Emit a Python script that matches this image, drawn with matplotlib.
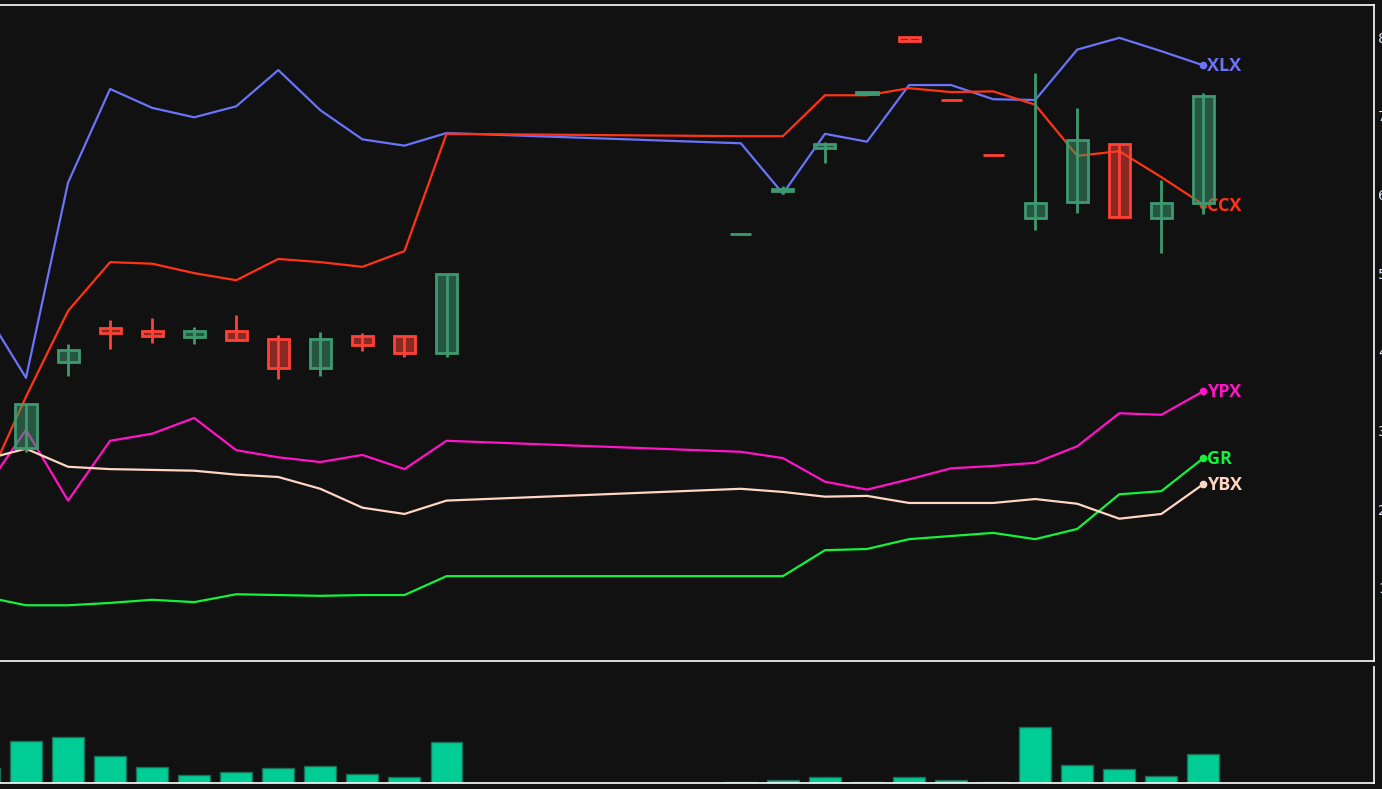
"""Candles + relative-strength lines with volume panel (dark theme)."""
import numpy as np
import matplotlib
matplotlib.use("Agg")
import matplotlib.pyplot as plt
from matplotlib.patches import Rectangle

# trading days (day index from first session, days 11-16 missing)
days = [-1, 0, 1, 2, 3, 4, 5, 6, 7, 8, 9, 10,
        17, 18, 19, 20, 21, 22, 23, 24, 25, 26, 27, 28]

xlx = [45.4, 36.7, 61.5, 73.4, 71.0, 69.8, 71.2, 75.8, 70.7, 67.0, 66.2, 67.8,
       66.5, 60.1, 67.7, 66.7, 73.9, 73.9, 72.1, 72.0, 78.4, 79.9, 78.2, 76.4]
ccx = [22.5, 34.3, 45.2, 51.4, 51.2, 50.0, 49.1, 51.8, 51.4, 50.8, 52.8, 67.7,
       67.4, 67.4, 72.6, 72.6, 73.5, 73.0, 73.1, 71.4, 64.9, 65.5, 62.2, 58.7]
ypx = [22.3, 30.1, 21.1, 28.7, 29.6, 31.6, 27.5, 26.6, 26.0, 26.9, 25.1, 28.7,
       27.3, 26.5, 23.5, 22.5, 23.8, 25.2, 25.5, 25.9, 28.0, 32.2, 32.0, 35.0]
gr = [8.9, 7.8, 7.8, 8.1, 8.5, 8.2, 9.2, 9.1, 9.0, 9.1, 9.1, 11.5,
      11.5, 11.5, 14.8, 14.95, 16.2, 16.6, 17.0, 16.2, 17.5, 21.9, 22.3, 26.5]
ybx = [26.3, 27.7, 25.4, 25.1, 25.0, 24.9, 24.4, 24.1, 22.6, 20.2, 19.4, 21.1,
       22.6, 22.2, 21.6, 21.7, 20.8, 20.8, 20.8, 21.3, 20.7, 18.8, 19.4, 23.2]

# OHLC for days 0.. (no candle for day -1)
c_days = days[1:]
opens  = [27.8, 38.7, 43.0, 42.7, 41.9, 42.7, 41.6, 38.0, 42.0, 42.0, 39.9,
          55.0, 60.4, 65.9, 72.8, 80.0, 72.05, 65.05, 57.0, 59.0, 66.4, 57.0, 58.9]
highs  = [33.4, 41.0, 44.0, 44.3, 43.2, 44.7, 42.1, 42.5, 42.4, 42.0, 49.9,
          55.0, 61.1, 66.7, 73.0, 80.0, 72.05, 65.05, 75.4, 71.0, 66.4, 61.8, 72.9]
lows   = [27.3, 36.9, 40.4, 41.1, 41.0, 41.4, 36.6, 36.9, 40.1, 39.3, 39.3,
          55.0, 60.1, 64.0, 72.8, 79.5, 72.0, 65.0, 55.5, 57.6, 57.1, 52.6, 57.5]
closes = [33.4, 40.2, 42.4, 42.0, 42.7, 41.5, 38.0, 41.6, 40.9, 39.9, 49.9,
          55.0, 60.7, 66.4, 73.0, 79.5, 72.0, 65.0, 58.9, 66.9, 57.1, 58.9, 72.5]

volume = [15, 42, 46, 27, 16, 8, 11, 15, 17, 9, 6, 41,
          1.2, 3, 6, 1.2, 6, 3, 1.2, 56, 18, 14, 7, 29]  # thousands

tick_days = [7, 17, 27]
tick_labels = ["Jul 1", "Jul 11", "Jul 21"]
y_ticks = [10, 20, 30, 40, 50, 60, 70, 80]

BG = "#111111"
W, H = 1382, 789
fig = plt.figure(figsize=(W / 100, H / 100), dpi=100, facecolor=BG)

# pixel layout: day d sits at x = 26 + 42.05*d; axes left edge is off-canvas
px_per_day = 42.05
left_px, right_px = -50, 1374
xlim = ((left_px - 26) / px_per_day, (right_px - 26) / px_per_day)
ax = fig.add_axes([left_px / W, 1 - 661 / H, (right_px - left_px) / W, 656 / H])
axv = fig.add_axes([left_px / W, 1 - 783 / H, (right_px - left_px) / W, 116 / H])

for a in (ax, axv):
    a.set_facecolor(BG)
    a.set_xlim(*xlim)
    for s in a.spines.values():
        s.set_color("white"); s.set_linewidth(1.2)
    a.spines["left"].set_visible(False)
axv.spines["top"].set_visible(False)

ax.set_ylim(0.72, 84.07)
ax.yaxis.tick_right()
ax.set_yticks(y_ticks)
ax.tick_params(axis="y", length=0, pad=3, labelsize=10, labelcolor="#dfe3ff")
ax.set_xticks([])

# lines with end labels
series = [("XLX", xlx, "#6a74f8"), ("CCX", ccx, "#ff3414"),
          ("YPX", ypx, "#ff14c8"), ("GR", gr, "#14f23c"), ("YBX", ybx, "#ffd6c4")]
for name, vals, col in series:
    ax.plot(days, vals, color=col, linewidth=1.6, zorder=2)
    ax.plot(days[-1], vals[-1], "o", color=col, markersize=4.5, zorder=2)
    ax.annotate(name, (days[-1], vals[-1]), xytext=(4, -1), textcoords="offset pixels",
                color=col, fontsize=13, fontweight="bold", va="center", ha="left",
                family=["Open Sans", "DejaVu Sans"], zorder=2)

# candles
up_edge, up_fill = "#3d9a70", (61 / 255, 154 / 255, 112 / 255, 0.5)
dn_edge, dn_fill = "#ff4136", (1.0, 65 / 255, 54 / 255, 0.5)
cw = 0.5
for d, o, h, l, c in zip(c_days, opens, highs, lows, closes):
    up = c >= o
    ec = up_edge if up else dn_edge
    fc = up_fill if up else dn_fill
    ax.plot([d, d], [l, h], color=ec, linewidth=2, zorder=3, solid_capstyle="butt")
    ax.add_patch(Rectangle((d - cw / 2, min(o, c)), cw, max(abs(c - o), 0.01),
                           facecolor=fc, edgecolor=ec, linewidth=2, zorder=4))

# volume panel
axv.bar(days, np.array(volume) * 1000, width=0.76, color="#00cc96",
        edgecolor="#1a6e55", linewidth=1)
axv.set_ylim(0, 116000)
axv.set_yticks([])
axv.set_xticks(tick_days)
axv.set_xticklabels(tick_labels)
axv.tick_params(axis="x", length=0, pad=4, labelsize=10, labelcolor="white")

plt.savefig("out.png", dpi=100, facecolor=BG)
plt.close()
